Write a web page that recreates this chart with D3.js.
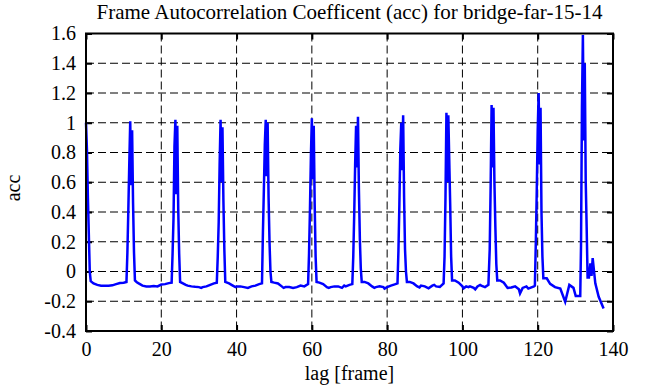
<!DOCTYPE html>
<html>
<head>
<meta charset="utf-8">
<script src="https://cdn.jsdelivr.net/npm/d3@7"></script>
<style>
  body { margin: 0; background: #fff; }
  svg text { font-family: "Liberation Serif", "Times New Roman", serif; fill: #000; }
</style>
</head>
<body>
<div id="chart"></div>
<script>
(function(){
// lag [frame] samples and the matching acc values
const lagValues = [
    0, 0.25, 0.5, 0.75, 1, 1.25, 2, 3, 4, 5, 6, 7, 8, 9, 10, 10.75,
    11, 11.25, 11.5, 11.75, 12, 12.25, 12.5, 12.75, 13,
    13.5, 14, 15, 16, 17, 18, 19, 20, 21, 22, 22.75,
    23, 23.25, 23.5, 23.75, 24, 24.25, 24.5, 24.75, 25,
    25.75, 26.5, 27, 28, 29, 30, 30.6, 31, 32, 33, 34, 34.75,
    35, 35.25, 35.5, 35.75, 36, 36.25, 36.5, 36.75, 37,
    38, 39, 39.7, 40, 41, 42, 43, 44, 45, 46, 46.75,
    47, 47.25, 47.5, 47.75, 48, 48.25, 48.5, 48.75, 49, 49.25,
    50, 51, 52, 52.5, 53, 54, 55, 56, 57, 58, 59,
    59.25, 59.5, 59.75, 60, 60.25, 60.5, 60.75, 61, 61.25,
    62, 63, 64, 64.5, 65, 66, 67, 68, 68.6, 69, 70, 70.75,
    71, 71.25, 71.5, 71.75, 72, 72.25, 72.5, 72.75, 73, 73.25,
    74, 75, 76, 76.6, 77, 78, 79, 79.3, 80, 81, 82, 82.75,
    83, 83.25, 83.5, 83.75, 84, 84.25, 84.5, 84.75, 85, 85.25,
    86, 87, 88, 88.6, 89, 90, 91, 92, 92.5, 93, 94, 95,
    95.25, 95.5, 95.75, 96, 96.25, 96.5, 96.75, 97, 97.25,
    98, 99, 100, 100.3, 101, 101.6, 102, 103, 103.4, 104, 104.7, 105, 106, 106.9,
    107.25, 107.5, 107.75, 108, 108.25, 108.5, 108.75, 109, 109.25,
    110, 111, 112, 113, 114, 115, 115.3, 116, 117, 117.5, 118, 119, 119.25,
    119.5, 119.75, 120, 120.25, 120.5, 120.75, 121, 121.25, 121.5,
    122.4, 123.3, 124.6, 126, 127.3, 128.4, 129.5, 130.1, 131.3,
    131.5, 131.75, 132, 132.25, 132.5, 132.75, 133, 133.25,
    133.6, 134, 134.3, 134.6, 135.3, 136.2, 137.5
];

const accValues = [
    1.0, 0.82, 0.5, 0.25, 0.0, -0.065, -0.08, -0.09, -0.095, -0.095, -0.095, -0.093, -0.085, -0.077, -0.075, -0.07,
    0.13, 0.42, 0.73, 1.01, 0.58, 0.95, 0.46, 0.13, -0.06,
    -0.072, -0.08, -0.095, -0.1, -0.1, -0.098, -0.1, -0.088, -0.085, -0.078, -0.075,
    0.12, 0.36, 0.84, 1.02, 0.52, 0.98, 0.42, 0.12, -0.07,
    -0.08, -0.09, -0.095, -0.1, -0.103, -0.105, -0.11, -0.105, -0.1, -0.09, -0.08, -0.075,
    0.1, 0.33, 0.72, 1.02, 0.6, 0.97, 0.48, 0.15, -0.07,
    -0.08, -0.095, -0.105, -0.1, -0.1, -0.105, -0.11, -0.1, -0.095, -0.085, -0.08,
    0.26, 0.55, 0.85, 1.02, 0.64, 1.0, 0.5, 0.2, 0.0, -0.07,
    -0.075, -0.08, -0.1, -0.11, -0.105, -0.105, -0.11, -0.105, -0.095, -0.1, -0.085,
    0.12, 0.42, 0.78, 1.03, 0.62, 0.98, 0.45, 0.1, -0.07,
    -0.075, -0.085, -0.105, -0.11, -0.105, -0.1, -0.1, -0.11, -0.095, -0.1, -0.09, -0.085,
    0.1, 0.38, 0.72, 0.98, 0.7, 1.04, 0.55, 0.22, 0.02, -0.07,
    -0.07, -0.08, -0.1, -0.11, -0.105, -0.1, -0.105, -0.115, -0.105, -0.095, -0.087, -0.08,
    0.14, 0.45, 0.82, 1.0, 0.68, 1.05, 0.5, 0.15, 0.0, -0.07,
    -0.07, -0.08, -0.1, -0.107, -0.095, -0.1, -0.113, -0.095, -0.09, -0.1, -0.103, -0.08,
    0.1, 0.5, 1.067, 0.6, 1.05, 0.75, 0.45, 0.1, -0.06,
    -0.06, -0.075, -0.1, -0.113, -0.1, -0.105, -0.1, -0.11, -0.12, -0.1, -0.09, -0.095, -0.105, -0.09,
    0.15, 0.58, 1.12, 0.7, 1.1, 0.6, 0.3, 0.05, -0.06,
    -0.06, -0.075, -0.11, -0.108, -0.1, -0.12, -0.147, -0.11, -0.1, -0.115, -0.11, -0.1, -0.095,
    0.2, 0.55, 0.95, 1.2, 0.72, 1.1, 0.4, 0.1, -0.046,
    -0.046, -0.083, -0.105, -0.115, -0.203, -0.09, -0.11, -0.165, -0.165,
    0.17, 1.1, 1.59, 0.88, 1.4, 0.61, 0.3, -0.04,
    -0.04, 0.055, -0.03, 0.09, -0.08, -0.17, -0.248
];

const xTicks = [0, 20, 40, 60, 80, 100, 120, 140];
const yTicks = [-0.4, -0.2, 0, 0.2, 0.4, 0.6, 0.8, 1, 1.2, 1.4, 1.6];

const titleText = 'Frame Autocorrelation Coefficent (acc) for bridge-far-15-14';
const xLabel = 'lag [frame]';
const yLabel = 'acc';

function createVisualization() {
    const width = 656;
    const height = 387;
    const margin = { top: 33.5, right: 43, bottom: 56, left: 86 };
    const fontFamily = '"Liberation Serif", "Times New Roman", serif';
    const fontSize = '20px';

    const svg = d3.select('#chart')
        .append('svg')
        .attr('width', width)
        .attr('height', height)
        .style('display', 'block');

    const data = lagValues.map((lag, i) => ({ lag: lag, acc: accValues[i] }));

    const xScale = d3.scaleLinear()
        .domain([0, 140])
        .range([margin.left, width - margin.right]);

    const yScale = d3.scaleLinear()
        .domain([-0.4, 1.6])
        .range([height - margin.bottom, margin.top]);

    const plotLeft = xScale(0), plotRight = xScale(140);
    const plotTop = yScale(1.6), plotBottom = yScale(-0.4);

    // dashed grid, only inside the frame
    svg.append('g')
        .selectAll('line')
        .data(yTicks.slice(1, -1))
        .enter()
        .append('line')
        .attr('x1', plotLeft)
        .attr('x2', plotRight)
        .attr('y1', d => yScale(d))
        .attr('y2', d => yScale(d))
        .attr('stroke', '#000')
        .attr('stroke-width', 1)
        .attr('stroke-dasharray', '8,4');

    svg.append('g')
        .selectAll('line')
        .data(xTicks.slice(1, -1))
        .enter()
        .append('line')
        .attr('x1', d => xScale(d))
        .attr('x2', d => xScale(d))
        .attr('y1', plotTop)
        .attr('y2', plotBottom)
        .attr('stroke', '#000')
        .attr('stroke-width', 1)
        .attr('stroke-dasharray', '8,4');

    // axes: ticks pointing inwards, mirrored on top and right
    const tickStyle = g => {
        g.attr('font-family', fontFamily).attr('font-size', fontSize);
        g.select('.domain').remove();
        g.selectAll('.tick line').attr('stroke', '#000').attr('stroke-width', 2);
        g.selectAll('.tick text').attr('fill', '#000');
    };

    svg.append('g')
        .attr('transform', `translate(0,${plotBottom})`)
        .call(d3.axisBottom(xScale).tickValues(xTicks).tickSize(-6).tickPadding(11).tickFormat(d3.format('d')))
        .call(tickStyle);

    svg.append('g')
        .attr('transform', `translate(0,${plotTop})`)
        .call(d3.axisTop(xScale).tickValues(xTicks).tickSize(-6).tickFormat(''))
        .call(tickStyle);

    svg.append('g')
        .attr('transform', `translate(${plotLeft},0)`)
        .call(d3.axisLeft(yScale).tickValues(yTicks).tickSize(-6).tickPadding(10).tickFormat(d => String(+d.toFixed(1))))
        .call(tickStyle);

    svg.append('g')
        .attr('transform', `translate(${plotRight},0)`)
        .call(d3.axisRight(yScale).tickValues(yTicks).tickSize(-6).tickFormat(''))
        .call(tickStyle);

    // the acc curve
    const line = d3.line()
        .x(d => xScale(d.lag))
        .y(d => yScale(d.acc));

    svg.append('path')
        .datum(data)
        .attr('d', line)
        .attr('fill', 'none')
        .attr('stroke', '#0000ff')
        .attr('stroke-width', 2.5)
        .attr('stroke-linejoin', 'miter');

    // frame
    svg.append('rect')
        .attr('x', plotLeft)
        .attr('y', plotTop)
        .attr('width', plotRight - plotLeft)
        .attr('height', plotBottom - plotTop)
        .attr('fill', 'none')
        .attr('stroke', '#000')
        .attr('stroke-width', 2);

    // title and axis labels
    svg.append('text')
        .attr('x', (plotLeft + plotRight) / 2)
        .attr('y', 19)
        .attr('text-anchor', 'middle')
        .attr('font-family', fontFamily)
        .attr('font-size', '21px')
        .text(titleText);

    svg.append('text')
        .attr('x', (plotLeft + plotRight) / 2)
        .attr('y', 380)
        .attr('text-anchor', 'middle')
        .attr('font-family', fontFamily)
        .attr('font-size', fontSize)
        .text(xLabel);

    svg.append('text')
        .attr('transform', 'rotate(-90)')
        .attr('x', -188)
        .attr('y', 20)
        .attr('text-anchor', 'middle')
        .attr('font-family', fontFamily)
        .attr('font-size', fontSize)
        .text(yLabel);
}

createVisualization();
})();
</script>
</body>
</html>
